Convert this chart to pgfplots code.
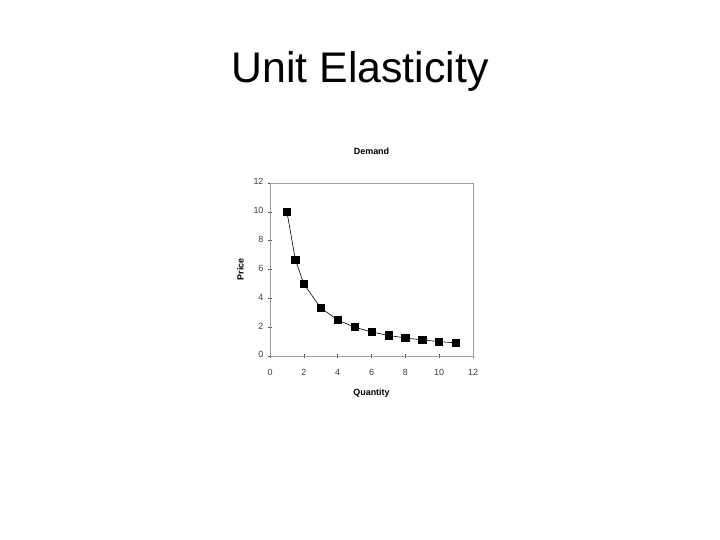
\documentclass[border=0pt]{standalone}
\usepackage{fontspec}
\setmainfont{Liberation Sans}
\usepackage{pgfplots}
\pgfplotsset{compat=1.18}

\begin{document}
\begin{tikzpicture}[x=1bp,y=1bp]
  % slide frame, 720 x 540
  \path[fill=white] (0,0) rectangle (720,540);
  \node[font=\fontsize{43}{48}\selectfont, anchor=base] at (360,457) {Unit Elasticity};
  \begin{axis}[
      at={(270bp,184bp)}, anchor=south west,
      scale only axis, width=203bp, height=173bp,
      xmin=0, xmax=12, ymin=0, ymax=12,
      xtick={0,2,...,12}, ytick={0,2,...,12},
      axis line style={draw=gray!75},
      tick style={draw=black!70, thin},
      tick align=center, major tick length=4bp,
      xtick pos=bottom, ytick pos=left,
      tick label style={font=\fontsize{9}{10}\selectfont, text=black!75},
      /pgf/number format/assume math mode=true,
      typeset ticklabels with strut,
      xticklabel style={yshift=-7bp},
      yticklabel style={xshift=-1bp},
      title={\textbf{Demand}}, title style={font=\fontsize{9}{10}\selectfont, yshift=19bp},
      xlabel={\textbf{Quantity}}, ylabel={\textbf{Price}},
      label style={font=\fontsize{9}{10}\selectfont},
      xlabel style={yshift=-4bp}, ylabel style={yshift=3bp},
    ]
    \addplot[black, line width=0.6bp, mark=square*, mark size=3.6bp,
             mark options={solid, fill=black}]
      coordinates {(1,10) (1.5,6.67) (2,5) (3,3.33) (4,2.5) (5,2) (6,1.67)
                   (7,1.43) (8,1.25) (9,1.11) (10,1) (11,0.91)};
  \end{axis}
\end{tikzpicture}
\end{document}
